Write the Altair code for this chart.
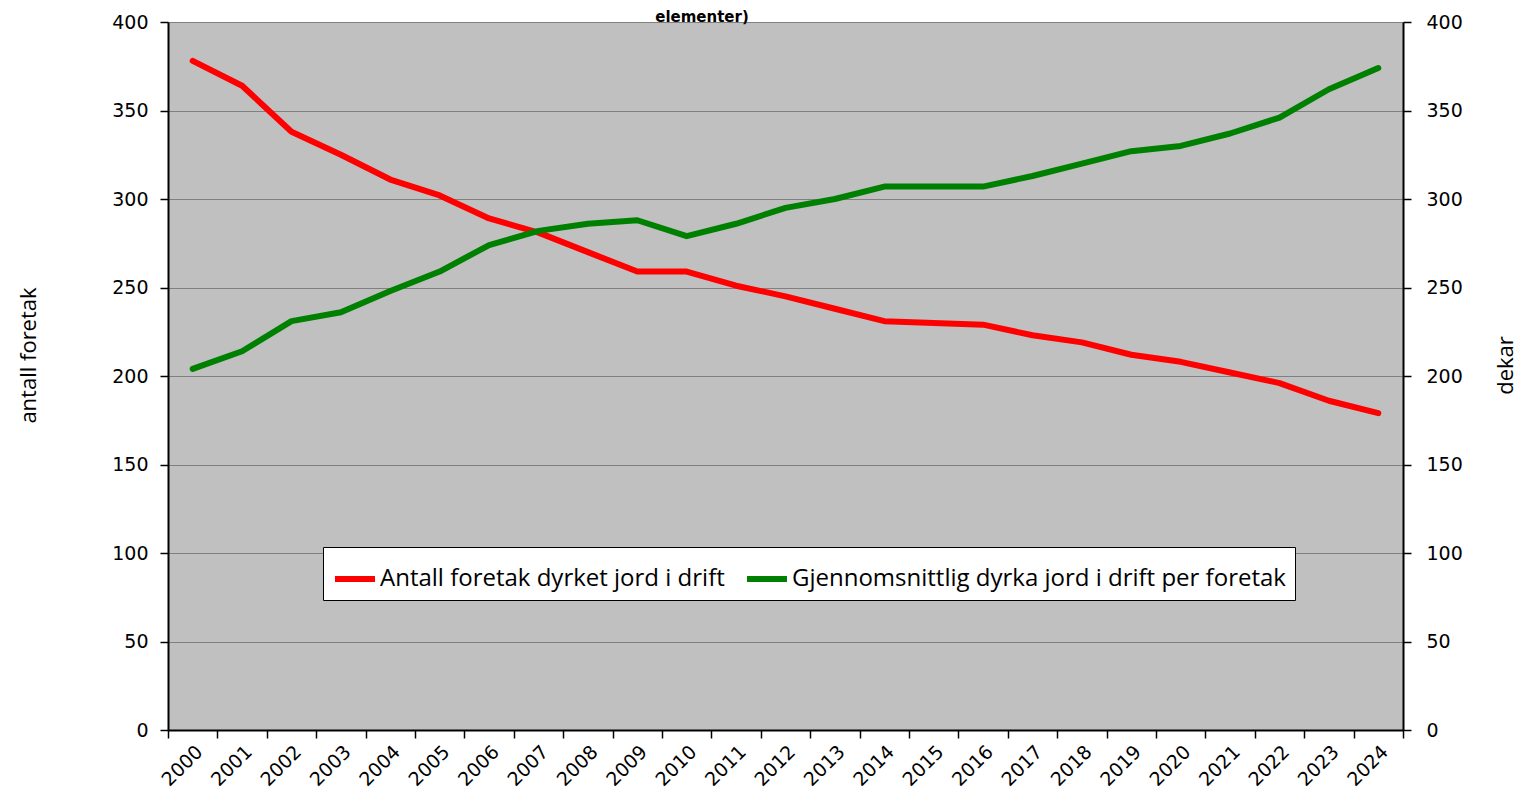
import altair as alt
import pandas as pd

years = [str(y) for y in range(2000, 2025)]
foretak = [378, 364, 338, 325, 311, 302, 289, 281, 270, 259, 259, 251, 245,
           238, 231, 230, 229, 223, 219, 212, 208, 202, 196, 186, 179]
dekar = [204, 214, 231, 236, 248, 259, 274, 282, 286, 288, 279, 286, 295,
         300, 307, 307, 307, 313, 320, 327, 330, 337, 346, 362, 374]
series_names = ["Antall foretak dyrket jord i drift",
                "Gjennomsnittlig dyrka jord i drift per foretak"]
series_colors = ["#FF0000", "#008000"]
title_text = ["elementer)"]

df = pd.DataFrame({
    "year": years + years,
    "value": foretak + dekar,
    "series": [series_names[0]] * len(years) + [series_names[1]] * len(years),
})
title_df = pd.DataFrame({"t": title_text})

tick_font = "DejaVu Sans"
text_font = "Open Sans"

x_enc = alt.X(
    "year:O",
    scale=alt.Scale(type="band", paddingInner=0, paddingOuter=0),
    bandPosition=0.5,
    axis=alt.Axis(
        title=None, labelAngle=-45, tickBand="extent", grid=False,
        domainColor="black", domainWidth=2, tickColor="black", tickWidth=1.5,
        tickSize=8, labelFont=tick_font, labelFontSize=19, labelColor="black",
        labelPadding=4,
    ),
)

color_enc = alt.Color(
    "series:N",
    scale=alt.Scale(domain=series_names, range=series_colors),
    legend=alt.Legend(
        title=None, orient="none", legendX=155, legendY=525,
        direction="horizontal", fillColor="white", strokeColor="black",
        padding=9, symbolType="stroke", symbolSize=1600,
        symbolStrokeWidth=6, labelFont=text_font, labelFontSize=24,
        labelColor="black", labelLimit=800, labelOffset=2, columnPadding=10,
    ),
)

left_axis = alt.Axis(
    title="antall foretak", values=list(range(0, 401, 50)), grid=True,
    gridColor="#808080", gridWidth=1, domainColor="black", domainWidth=2,
    tickColor="black", tickWidth=1.5, tickSize=8, labelFont=tick_font,
    labelFontSize=19, labelColor="black", labelPadding=12,
    titleFont=text_font, titleFontSize=22, titleFontWeight="normal",
    titleColor="black", titleX=-140, titleY=333, titleAngle=270,
    titleAlign="center", titleBaseline="middle",
)
right_axis = alt.Axis(
    title="dekar", orient="right", values=list(range(0, 401, 50)), grid=False,
    domainColor="black", domainWidth=2, tickColor="black", tickWidth=1.5,
    tickSize=8, labelFont=tick_font, labelFontSize=19, labelColor="black",
    labelPadding=15, titleFont=text_font, titleFontSize=22,
    titleFontWeight="normal", titleColor="black", titleX=102, titleY=343,
    titleAngle=270, titleAlign="center", titleBaseline="middle",
)

base = alt.Chart(df)
red = base.transform_filter(alt.datum.series == series_names[0]).mark_line(
    strokeWidth=6, strokeCap="round", strokeJoin="round"
).encode(
    x=x_enc,
    y=alt.Y("value:Q", scale=alt.Scale(domain=[0, 400], nice=False), axis=left_axis),
    color=color_enc,
)
green = base.transform_filter(alt.datum.series == series_names[1]).mark_line(
    strokeWidth=6, strokeCap="round", strokeJoin="round"
).encode(
    x=x_enc,
    y=alt.Y("value:Q", scale=alt.Scale(domain=[0, 400], nice=False), axis=right_axis),
    color=color_enc,
)
title_mark = alt.Chart(title_df).mark_text(
    font="DejaVu Sans", fontSize=15, fontWeight="bold", color="black",
    align="center", baseline="alphabetic",
).encode(text="t:N", x=alt.value(534), y=alt.value(0))

chart = alt.layer(red, green, title_mark).resolve_scale(y="independent").properties(
    width=1235, height=708,
    autosize=alt.AutoSizeParams(type="none"),
    padding={"left": 160, "top": 14, "right": 116, "bottom": 64},
).configure_view(fill="#C0C0C0", strokeWidth=0)

chart.save("out.html", embed_options={"renderer": "svg", "actions": False})
